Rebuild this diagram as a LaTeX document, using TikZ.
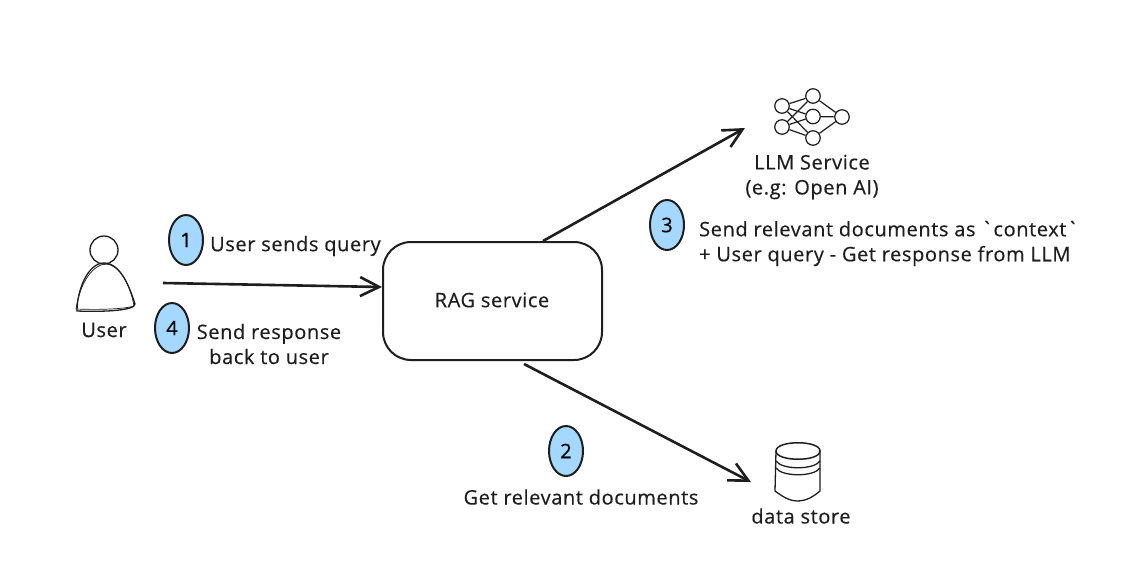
\documentclass[tikz,border=0pt]{standalone}
\usepackage{fontspec}
\newfontfamily\handfont[LetterSpace=3,FakeBold=0.4]{Open Sans}
\usetikzlibrary{arrows.meta,shapes.geometric}
\definecolor{inkcol}{HTML}{1E1E1E}
\definecolor{badgecol}{HTML}{A5D8FF}
\tikzset{
    label/.style={inkcol, inner sep=0pt, align=center, font=\handfont\fontsize{20}{25}\selectfont},
    badge/.style={ellipse, draw=inkcol, line width=2pt, fill=badgecol, minimum width=34pt, minimum height=50pt, inner sep=0pt, font=\handfont\fontsize{20}{25}\selectfont},
    neuron/.style={circle, draw=inkcol, line width=1.2pt, minimum size=14.5pt, inner sep=0pt},
    flow/.style={draw=inkcol, line width=2.6pt, -{Straight Barb[length=19pt,width=19pt,line width=2.6pt]}},
    sketch/.style={draw=inkcol, line width=1.3pt},
}
\begin{document}
\begin{tikzpicture}[x=1pt,y=-1pt]
    \useasboundingbox (0,0) rectangle (1136,562);
    \fill[white] (0,0) rectangle (1136,562);

    % user
    \node[circle, draw=inkcol, line width=1.3pt, minimum size=28pt, inner sep=0pt] (head) at (104,250) {};
    \draw[sketch] (104,263) .. controls (122,263) and (131,292) .. (135,304) .. controls (135,311) and (100,312) .. (77,311) .. controls (77,290) and (88,263) .. (104,263);
    \draw[sketch, line width=0.7pt] (106,264) .. controls (124,266) and (132,294) .. (134,306) .. controls (125,309) and (100,310) .. (76,309) .. controls (79,288) and (90,265) .. (106,264);
    \node[label] (user) at (104,330) {User};

    % rag service
    \node[draw=inkcol, line width=2pt, rounded corners=28pt, minimum width=219pt, minimum height=118pt, inner sep=0pt] (rag) at (492.5,301) {};
    \node[label] (raglabel) at (492,300) {RAG service};

    % llm network
    \node[neuron] (inA) at (782,106) {};
    \node[neuron] (inB) at (782,127) {};
    \node[neuron] (midA) at (813,96) {};
    \node[neuron] (midB) at (813,116.5) {};
    \node[neuron] (midC) at (813,138) {};
    \node[neuron] (outA) at (842,117) {};
    \foreach \a in {inA,inB}
        \foreach \b in {midA,midB,midC}
            \draw[inkcol, line width=1.2pt] (\a) -- (\b);
    \foreach \b in {midA,midB,midC}
        \draw[inkcol, line width=1.2pt] (\b) -- (outA);
    \node[label] (llm) at (812,177) {LLM Service\\(e.g: Open AI)};

    % data store
    \draw[sketch, line width=1.5pt] (776,451) .. controls (776,462) and (820,462) .. (820,451) .. controls (820,440) and (776,440) .. (776,451);
    \draw[sketch] (776,451) -- (775,491) .. controls (783,497) and (790,501) .. (797,501) .. controls (806,501) and (813,497) .. (820,491) -- (820,451);
    \draw[sketch] (776,461) .. controls (782,470) and (814,470) .. (820,461);
    \draw[sketch] (776,468) .. controls (782,477) and (814,477) .. (820,468);
    \node[label] (store) at (801,516) {data store};

    % connector ends
    \coordinate (userout) at (163,283);
    \coordinate (ragin) at (rag.west |- 0,287);
    \coordinate (ragup) at (543,241);
    \coordinate (llmin) at (745,128);
    \coordinate (ragdown) at (524,364);
    \coordinate (storein) at (751,482);
    \draw[flow] (userout) -- (ragin);
    \draw[flow] (ragup) -- (llmin);
    \draw[flow] (ragdown) -- (storein);

    % steps
    \node[badge] (one) at (186,240) {1};
    \node[label, anchor=west] (onetext) at (210,246) {User sends query};
    \node[badge] (two) at (566,451) {2};
    \node[label] (twotext) at (581,497) {Get relevant documents};
    \node[badge] (three) at (667,225) {3};
    \node[label, anchor=west, align=left] (threetext) at (699,243.5) {Send relevant documents as \char96 context\char96\\+ User query - Get response from LLM};
    \node[badge] (four) at (172,328) {4};
    \node[label] (fourtext) at (269,344) {Send response\\back to user};
\end{tikzpicture}
\end{document}
